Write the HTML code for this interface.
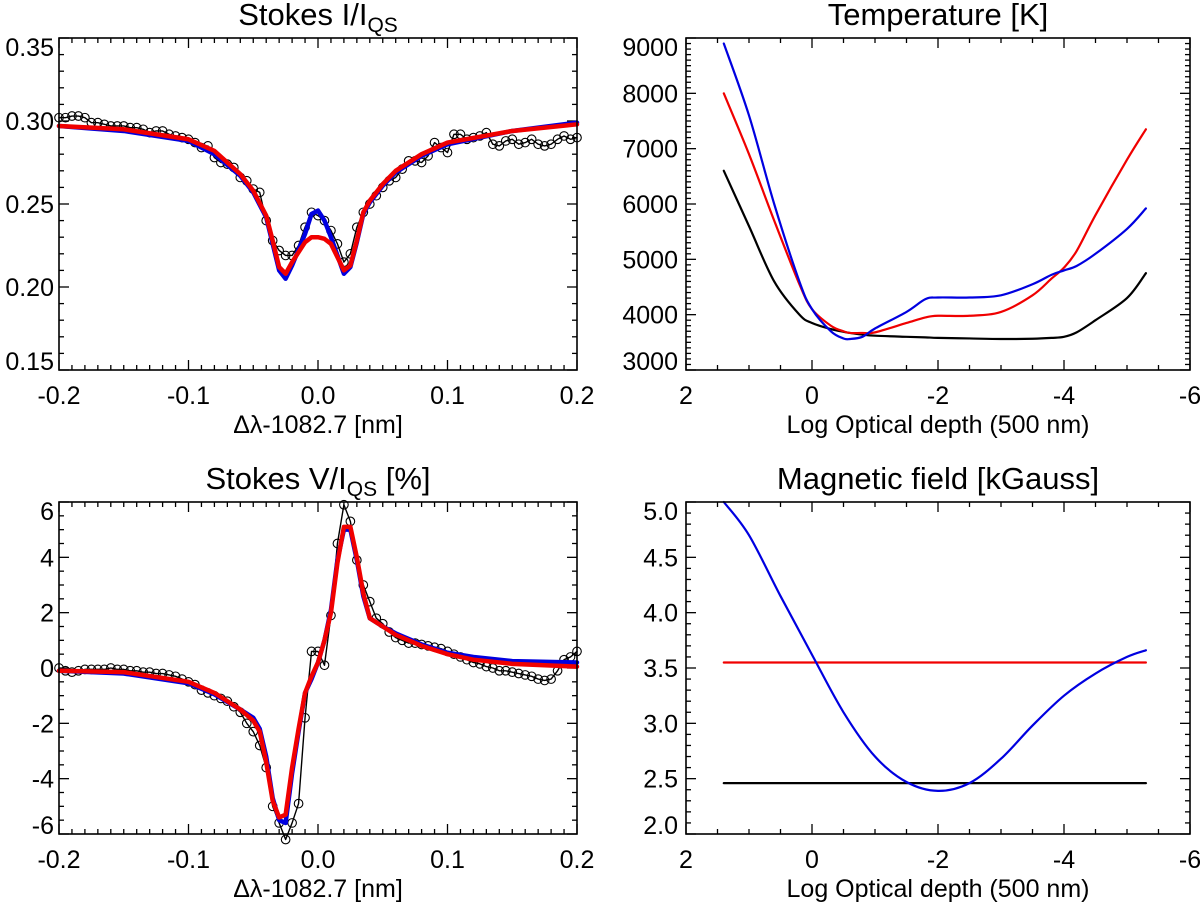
<!DOCTYPE html>
<html><head><meta charset="utf-8"><style>
html,body{margin:0;padding:0;background:#fff;}
svg{display:block;font-family:"Liberation Sans",Arial,sans-serif;}
</style></head><body>
<svg id="fig" width="1200" height="903" viewBox="0 0 1200 903" xmlns="http://www.w3.org/2000/svg"></svg>
<script>
// ---------- Data ----------
const iObsX = [-0.2,-0.195,-0.19,-0.185,-0.18,-0.175,-0.17,-0.165,-0.16,-0.155,-0.15,-0.145,-0.14,-0.135,-0.13,-0.125,-0.12,-0.115,-0.11,-0.105,-0.1,-0.095,-0.09,-0.085,-0.08,-0.075,-0.07,-0.065,-0.06,-0.055,-0.05,-0.045,-0.04,-0.035,-0.03,-0.025,-0.02,-0.015,-0.01,-0.005,0,0.005,0.01,0.015,0.02,0.025,0.03,0.035,0.04,0.045,0.05,0.055,0.06,0.065,0.07,0.075,0.08,0.085,0.09,0.095,0.1,0.105,0.11,0.115,0.12,0.125,0.13,0.135,0.14,0.145,0.15,0.155,0.16,0.165,0.17,0.175,0.18,0.185,0.19,0.195,0.2];
const iObsY = [0.302,0.302,0.303,0.303,0.302,0.299,0.299,0.298,0.297,0.297,0.297,0.296,0.296,0.295,0.293,0.294,0.294,0.292,0.291,0.290,0.289,0.287,0.284,0.285,0.278,0.275,0.274,0.272,0.266,0.264,0.259,0.257,0.240,0.228,0.222,0.219,0.219,0.225,0.236,0.245,0.243,0.240,0.234,0.226,0.215,0.220,0.236,0.245,0.250,0.255,0.260,0.264,0.266,0.271,0.276,0.276,0.275,0.279,0.287,0.284,0.281,0.292,0.292,0.289,0.290,0.291,0.293,0.286,0.285,0.288,0.289,0.286,0.287,0.289,0.286,0.285,0.286,0.289,0.291,0.289,0.290];
const iFitX = [-0.2,-0.15,-0.1,-0.08,-0.06,-0.05,-0.04,-0.035,-0.03,-0.025,-0.02,-0.01,-0.005,0,0.005,0.01,0.02,0.025,0.03,0.035,0.04,0.05,0.06,0.08,0.1,0.15,0.2];
const iRed  = [0.297,0.295,0.289,0.282,0.268,0.258,0.243,0.228,0.212,0.208,0.215,0.227,0.230,0.230,0.229,0.226,0.210,0.213,0.228,0.245,0.252,0.262,0.270,0.280,0.287,0.294,0.298];
const iBlue = [0.297,0.294,0.288,0.280,0.267,0.257,0.242,0.226,0.210,0.205,0.213,0.232,0.244,0.246,0.240,0.230,0.208,0.212,0.227,0.244,0.251,0.261,0.269,0.279,0.286,0.294,0.299];

const vObsY = [0.0,-0.1,-0.15,-0.1,-0.05,-0.05,-0.05,-0.05,0.0,-0.05,-0.05,-0.1,-0.1,-0.15,-0.15,-0.2,-0.2,-0.25,-0.3,-0.4,-0.5,-0.6,-0.8,-0.9,-1.0,-1.1,-1.2,-1.4,-1.6,-2.0,-2.3,-2.8,-3.6,-5.0,-5.6,-6.2,-5.6,-4.9,-1.8,0.6,0.6,0.1,1.9,4.5,5.9,5.3,3.9,3.0,2.4,1.8,1.6,1.3,1.1,1.0,0.9,0.9,0.85,0.8,0.75,0.7,0.6,0.5,0.4,0.3,0.2,0.15,0.05,0.0,-0.1,-0.1,-0.15,-0.2,-0.25,-0.3,-0.4,-0.45,-0.4,-0.1,0.3,0.4,0.6];
const vFitX = [-0.2,-0.15,-0.1,-0.08,-0.06,-0.05,-0.045,-0.04,-0.035,-0.03,-0.025,-0.02,-0.015,-0.01,-0.005,0,0.005,0.01,0.015,0.02,0.025,0.03,0.035,0.04,0.05,0.06,0.08,0.1,0.12,0.15,0.2];
const vRed  = [-0.1,-0.15,-0.5,-0.9,-1.5,-1.9,-2.3,-3.4,-4.8,-5.4,-5.3,-3.6,-2.2,-0.9,-0.3,0.2,1.0,2.0,3.8,5.1,5.1,4.0,2.7,1.8,1.5,1.2,0.8,0.5,0.3,0.15,0.05];
const vBlue = [-0.1,-0.2,-0.55,-0.95,-1.5,-1.8,-2.2,-3.2,-4.7,-5.5,-5.6,-3.8,-2.3,-0.9,-0.4,0.2,1.0,2.1,3.9,5.0,5.0,3.9,2.6,1.8,1.5,1.25,0.85,0.55,0.4,0.25,0.2];

const tauT = [1.4,1.0,0.6,0.2,0,-0.3,-0.5,-0.6,-0.8,-1.0,-1.5,-1.8,-2.0,-2.5,-3.0,-3.5,-3.8,-4.0,-4.2,-4.5,-5.0,-5.3];
const tBlack = [6600,5600,4600,4000,3850,3740,3690,3670,3640,3620,3600,3590,3580,3570,3560,3565,3580,3600,3680,3900,4300,4750];
const tRed   = [8000,6900,5700,4550,4100,3800,3700,3670,3670,3680,3850,3950,3980,3980,4050,4350,4650,4850,5150,5800,6800,7350];
const tBlue  = [8900,7600,6000,4600,4100,3700,3570,3560,3600,3750,4050,4280,4310,4310,4350,4550,4720,4800,4880,5100,5550,5920];

const tauB = [1.4,1.0,0.5,0,-0.5,-1.0,-1.5,-2.0,-2.5,-3.0,-3.5,-4.0,-4.5,-5.0,-5.3];
const bBlue  = [5.0,4.7,4.15,3.62,3.1,2.7,2.47,2.39,2.46,2.68,2.98,3.25,3.45,3.6,3.66];
const bRed   = [3.55,3.55];
const bBlack = [2.46,2.46];
const bConstX = [1.4,-5.3];

const xTicksLam = ["-0.2","-0.1","0.0","0.1","0.2"];
const yTicksI = ["0.15","0.20","0.25","0.30","0.35"];
const yTicksV = ["-6","-4","-2","0","2","4","6"];
const xTicksTau = ["2","0","-2","-4","-6"];
const yTicksT = ["3000","4000","5000","6000","7000","8000","9000"];
const yTicksB = ["2.0","2.5","3.0","3.5","4.0","4.5","5.0"];

// ---------- Drawing ----------
const NS = "http://www.w3.org/2000/svg";
const svg = document.getElementById('fig');
function mk(tag, attrs, parent){ const e=document.createElementNS(NS,tag); for(const k in attrs) e.setAttribute(k,attrs[k]); (parent||svg).appendChild(e); return e; }

function panel(cfg){
  const g = mk('g',{});
  
  
  const sx = v => cfg.L + (v-cfg.x0)/(cfg.x1-cfg.x0)*(cfg.R-cfg.L);
  const sy = v => cfg.B - (v-cfg.y0)/(cfg.y1-cfg.y0)*(cfg.B-cfg.T);
  const tg = mk('g',{stroke:'#000','stroke-width':1.3},g);
  
  
  const lo=Math.min(cfg.x0,cfg.x1), hi=Math.max(cfg.x0,cfg.x1);
  const nx = Math.round((hi-lo)/cfg.xmin);
  for(let i=0;i<=nx;i++){ const v=lo+i*cfg.xmin; const major=Math.abs(v/cfg.xmaj-Math.round(v/cfg.xmaj))<1e-6; const len=major?10:5; const x=sx(v);
    mk('line',{x1:x,y1:cfg.B,x2:x,y2:cfg.B-len},tg); mk('line',{x1:x,y1:cfg.T,x2:x,y2:cfg.T+len},tg); }
  const ny = Math.round((cfg.y1-cfg.y0)/cfg.ymin);
  for(let i=0;i<=ny;i++){ const v=cfg.y0+i*cfg.ymin; const major=Math.abs((v-cfg.y0)/cfg.ymaj-Math.round((v-cfg.y0)/cfg.ymaj))<1e-6; const len=major?10:5; const y=sy(v);
    mk('line',{x1:cfg.L,y1:y,x2:cfg.L+len,y2:y},tg); mk('line',{x1:cfg.R,y1:y,x2:cfg.R-len,y2:y},tg); }
  cfg.xlab.forEach((s)=>{ const v=parseFloat(s); const t=mk('text',{x:sx(v),y:cfg.B+34,'font-size':25,'text-anchor':'middle'},g); t.textContent=s;
      });
  cfg.ylab.forEach((s)=>{ const v=parseFloat(s); let cy=sy(v); cy=Math.max(cfg.T+9,Math.min(cfg.B-9,cy)); const t=mk('text',{x:cfg.L-cfg.ylOff,y:cy+9,'font-size':25,'text-anchor':'end'},g); t.textContent=s;
      });
  cfg.series.forEach(s=>{
    const pts = s.x.map((xv,i)=>[sx(xv),sy(s.y[i])]);
    let d;
    if(s.smooth && pts.length>2){
      d='M'+pts[0][0]+','+pts[0][1];
      for(let i=0;i<pts.length-1;i++){ const p0=pts[i-1]||pts[i], p1=pts[i], p2=pts[i+1], p3=pts[i+2]||p2;
        const c1=[p1[0]+(p2[0]-p0[0])/6, p1[1]+(p2[1]-p0[1])/6], c2=[p2[0]-(p3[0]-p1[0])/6, p2[1]-(p3[1]-p1[1])/6];
        d+=' C'+c1[0]+','+c1[1]+' '+c2[0]+','+c2[1]+' '+p2[0]+','+p2[1]; }
    } else d='M'+pts.map(p=>p[0]+','+p[1]).join(' L');
    const p=mk('path',{d:d,fill:'none',stroke:s.color,'stroke-width':s.w,'stroke-linejoin':'round','stroke-linecap':'round'},g);
    
    
    if(s.circles){ const cg=mk('g',{fill:'none',stroke:'#000','stroke-width':1.1},g);
      
      
      pts.forEach(pt=>mk('circle',{cx:pt[0],cy:pt[1],r:4.3},cg)); }
  });
  const fr=mk('rect',{x:cfg.L,y:cfg.T,width:cfg.R-cfg.L,height:cfg.B-cfg.T,fill:'none',stroke:'#000','stroke-width':1.6},g);
  
  
  const tt=mk('text',{x:(cfg.L+cfg.R)/2,y:cfg.T-13,'font-size':31,'text-anchor':'middle'},g);
  
  
  tt.innerHTML=cfg.title;
  if(cfg.xtitle){ const xt=mk('text',{x:(cfg.L+cfg.R)/2,y:cfg.B+63,'font-size':25,'text-anchor':'middle'},g);
    
    
    xt.textContent=cfg.xtitle; }
}

const sub = (a,b,c)=> a+'<tspan font-size="21" dy="7">'+b+'</tspan><tspan dy="-7">'+(c||'')+'</tspan>';

panel({name:'stokes-i-panel',L:59,R:577,T:38,B:370,x0:-0.2,x1:0.2,y0:0.15,y1:0.35,xmaj:0.1,xmin:0.01,ymaj:0.05,ymin:0.01,ylOff:5,
  xlab:xTicksLam,ylab:yTicksI,title:sub('Stokes I/I','QS'),xtitle:'Δλ-1082.7 [nm]',
  series:[{name:'stokes-i-observed',x:iObsX,y:iObsY,color:'#000',w:1.4,circles:true},
          {name:'stokes-i-fit-blue',x:iFitX,y:iBlue,color:'#0000e0',w:4.5},
          {name:'stokes-i-fit-red',x:iFitX,y:iRed,color:'#f00000',w:4.5}]});

panel({name:'stokes-v-panel',L:59,R:577,T:502,B:834,x0:-0.2,x1:0.2,y0:-6,y1:6,xmaj:0.1,xmin:0.01,ymaj:2,ymin:0.5,ylOff:5,
  xlab:xTicksLam,ylab:yTicksV,title:sub('Stokes V/I','QS',' [%]'),xtitle:'Δλ-1082.7 [nm]',
  series:[{name:'stokes-v-observed',x:iObsX,y:vObsY,color:'#000',w:1.4,circles:true},
          {name:'stokes-v-fit-blue',x:vFitX,y:vBlue,color:'#0000e0',w:4.5},
          {name:'stokes-v-fit-red',x:vFitX,y:vRed,color:'#f00000',w:4.5}]});

panel({name:'temperature-panel',L:686,R:1190,T:38,B:370,x0:2,x1:-6,y0:3000,y1:9000,xmaj:2,xmin:0.5,ymaj:1000,ymin:100,ylOff:8,
  xlab:xTicksTau,ylab:yTicksT,title:'Temperature [K]',xtitle:'Log Optical depth (500 nm)',
  series:[{name:'temperature-black',x:tauT,y:tBlack,color:'#000',w:2.2,smooth:true},
          {name:'temperature-red',x:tauT,y:tRed,color:'#f00000',w:2.2,smooth:true},
          {name:'temperature-blue',x:tauT,y:tBlue,color:'#0000e0',w:2.2,smooth:true}]});

panel({name:'magnetic-field-panel',L:686,R:1190,T:502,B:834,x0:2,x1:-6,y0:2,y1:5,xmaj:2,xmin:0.5,ymaj:0.5,ymin:0.1,ylOff:8,
  xlab:xTicksTau,ylab:yTicksB,title:'Magnetic field [kGauss]',xtitle:'Log Optical depth (500 nm)',
  series:[{name:'field-black',x:bConstX,y:bBlack,color:'#000',w:2.2},
          {name:'field-red',x:bConstX,y:bRed,color:'#f00000',w:2.2},
          {name:'field-blue',x:tauB,y:bBlue,color:'#0000e0',w:2.2,smooth:true}]});
</script>
</body></html>
